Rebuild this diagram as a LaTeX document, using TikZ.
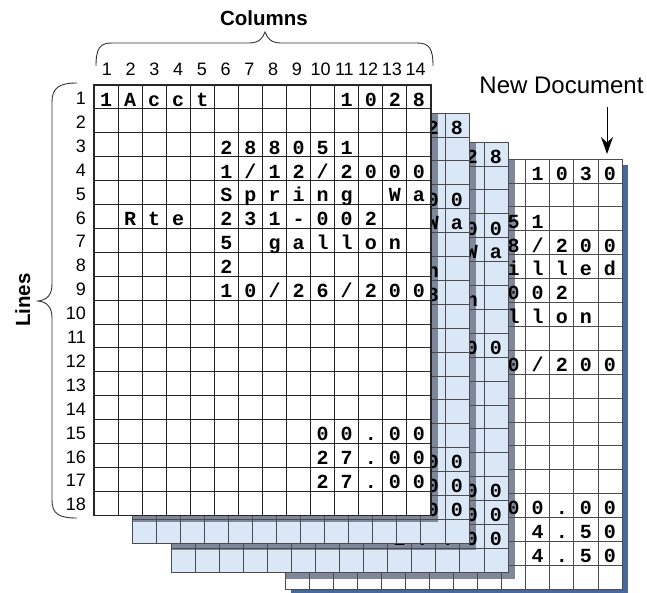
\documentclass[tikz,border=0pt]{standalone}
\usepackage{fontspec}
\setmainfont{Liberation Sans}
\newfontfamily\cellfont{Liberation Mono}
\usetikzlibrary{arrows.meta}
\definecolor{sheetblue}{RGB}{217,231,246}
\definecolor{shadowgray}{RGB}{127,136,154}
\definecolor{edgeblue}{RGB}{72,104,156}
\newcommand{\colw}{24.07}
\newcommand{\rowh}{23.9}
% sheet of 14 x 18 cells, top left corner at (#1,#2), shadow of the sheet in front at (#4,#5)
\newcommand{\sheetbase}[5]{%
  \fill[#3] (#1,#2) rectangle ++(14*\colw,18*\rowh);
  \begin{scope}
    \clip (#1,#2) rectangle ++(14*\colw,18*\rowh);
    \fill[shadowgray] ({#4+7},{#5+7}) rectangle ++(14*\colw,18*\rowh);
  \end{scope}
}
\newcommand{\sheetgrid}[3]{%
  \foreach \i in {1,...,13}
    \draw[#3] ({#1+\i*\colw},#2) -- ++(0,18*\rowh);
  \foreach \j in {1,...,17}
    \draw[#3] (#1,{#2+\j*\rowh}) -- ++(14*\colw,0);
  \draw[#3] (#1,#2) rectangle ++(14*\colw,18*\rowh);
}
% characters: row/first column/{chars}
\newcommand{\sheettext}[4]{%
  \foreach \rw/\cstart/\chars in {#4} {
    \foreach \chr [count=\kk from \cstart] in \chars
      \node[cell] (#1-\rw-\kk) at ({#2+(\kk-0.5)*\colw},{#3+(\rw-1)*\rowh+21.3}) {\chr};
  }%
}

\begin{document}
\begin{tikzpicture}[x=1pt, y=-1pt,
    cell/.style={anchor=base, inner sep=0pt, font=\cellfont\bfseries\fontsize{20}{20}\selectfont},
    numlabel/.style={anchor=base, inner sep=0pt, font=\fontsize{18}{18}\selectfont},
    title/.style={anchor=base, inner sep=0pt, font=\bfseries\fontsize{20.5}{20.5}\selectfont},
    frontline/.style={draw=black!85, line width=0.9pt},
    backline/.style={draw=black!70, line width=0.8pt},
    brace/.style={draw=black!80, line width=0.9pt},
    line/.style={-{Stealth[length=17pt,width=12pt]}, line width=1pt}
]
    \useasboundingbox (0,0) rectangle (647,592);

    % new document, at the back
    \fill[edgeblue] (291,165) rectangle ++(14*\colw,18*\rowh);
    \sheetbase{285}{159}{white}{171}{142}
    \sheetgrid{285}{159}{backline}
    \sheettext{nd}{285}{159}{1/11/{1,0,3,0}, 3/10/{5,1}, 4/10/{8,/,2,0,0}, 5/10/{i,l,l,e,d},
      6/10/{0,0,2}, 7/10/{l,l,o,n}, 9/10/{0,/,2,0,0}, 15/10/{0,0,.,0,0}, 16/11/{4,.,5,0}, 17/11/{4,.,5,0}}

    % third sheet
    \sheetbase{171}{142}{sheetblue}{132}{113}
    \sheetgrid{171}{142}{backline}
    \sheettext{th}{171}{142}{1/13/{2,8}, 4/13/{0,0}, 5/13/{W,a}, 7/13/{n}, 9/13/{0,0},
      15/13/{0,0}, 16/13/{0,0}, 17/10/{2,7,.,0,0}}

    % second sheet
    \sheetbase{132}{113}{sheetblue}{94}{85}
    \sheetgrid{132}{113}{backline}
    \sheettext{se}{132}{113}{1/13/{2,8}, 4/13/{0,0}, 5/13/{W,a}, 7/13/{n}, 8/13/{8},
      15/13/{0,0}, 16/13/{0,0}, 17/10/{2,7,.,0,0}}

    % front sheet
    \fill[white] (94,85) rectangle ++(14*\colw,18*\rowh);
    \sheetgrid{94}{85}{frontline}
    \draw[frontline, line width=1.2pt] (94,85) rectangle ++(14*\colw,18*\rowh);
    \sheettext{fr}{94}{85}{1/1/{1,A,c,c,t}, 1/11/{1,0,2,8}, 3/6/{2,8,8,0,5,1}, 4/6/{1,/,1,2,/,2,0,0,0},
      5/6/{S,p,r,i,n,g}, 5/13/{W,a}, 6/2/{R,t,e}, 6/6/{2,3,1,-,0,0,2}, 7/6/{5}, 7/8/{g,a,l,l,o,n},
      8/6/{2}, 9/6/{1,0,/,2,6,/,2,0,0}, 15/10/{0,0,.,0,0}, 16/10/{2,7,.,0,0}, 17/10/{2,7,.,0,0}}

    % column and line numbers
    \foreach \i in {1,...,14}
      \node[numlabel] (col\i) at ({95+(\i-0.5)*23.75},75) {\i};
    \foreach \i in {1,...,18}
      \node[numlabel, anchor=base east] (row\i) at (86,{85+(\i-1)*\rowh+19.5}) {\i};

    % braces
    \draw[brace] (96,66) .. controls (96,48) and (100,43) .. (112,43) -- (249,43)
      .. controls (259,43) and (263,38) .. (265,32) .. controls (267,38) and (271,43) .. (281,43)
      -- (417,43) .. controls (429,43) and (433,48) .. (433,66);
    \draw[brace] (77,83) .. controls (59,83) and (52,88) .. (52,102) -- (52,284)
      .. controls (52,295) and (47,300) .. (38,301) .. controls (47,302) and (52,307) .. (52,318)
      -- (52,500) .. controls (52,514) and (59,518) .. (77,518);
    \node[title] (columns) at (264,25) {Columns};
    \node[title, rotate=90] (lines) at (30,300) {Lines};

    \node[anchor=base, inner sep=0pt, font=\fontsize{24}{24}\selectfont] (newdoc) at (561.5,93) {New Document};
    \coordinate (ndtip) at (607,154);
    \draw[line] (newdoc.south -| ndtip) ++(0,14) -- (ndtip);
\end{tikzpicture}
\end{document}
